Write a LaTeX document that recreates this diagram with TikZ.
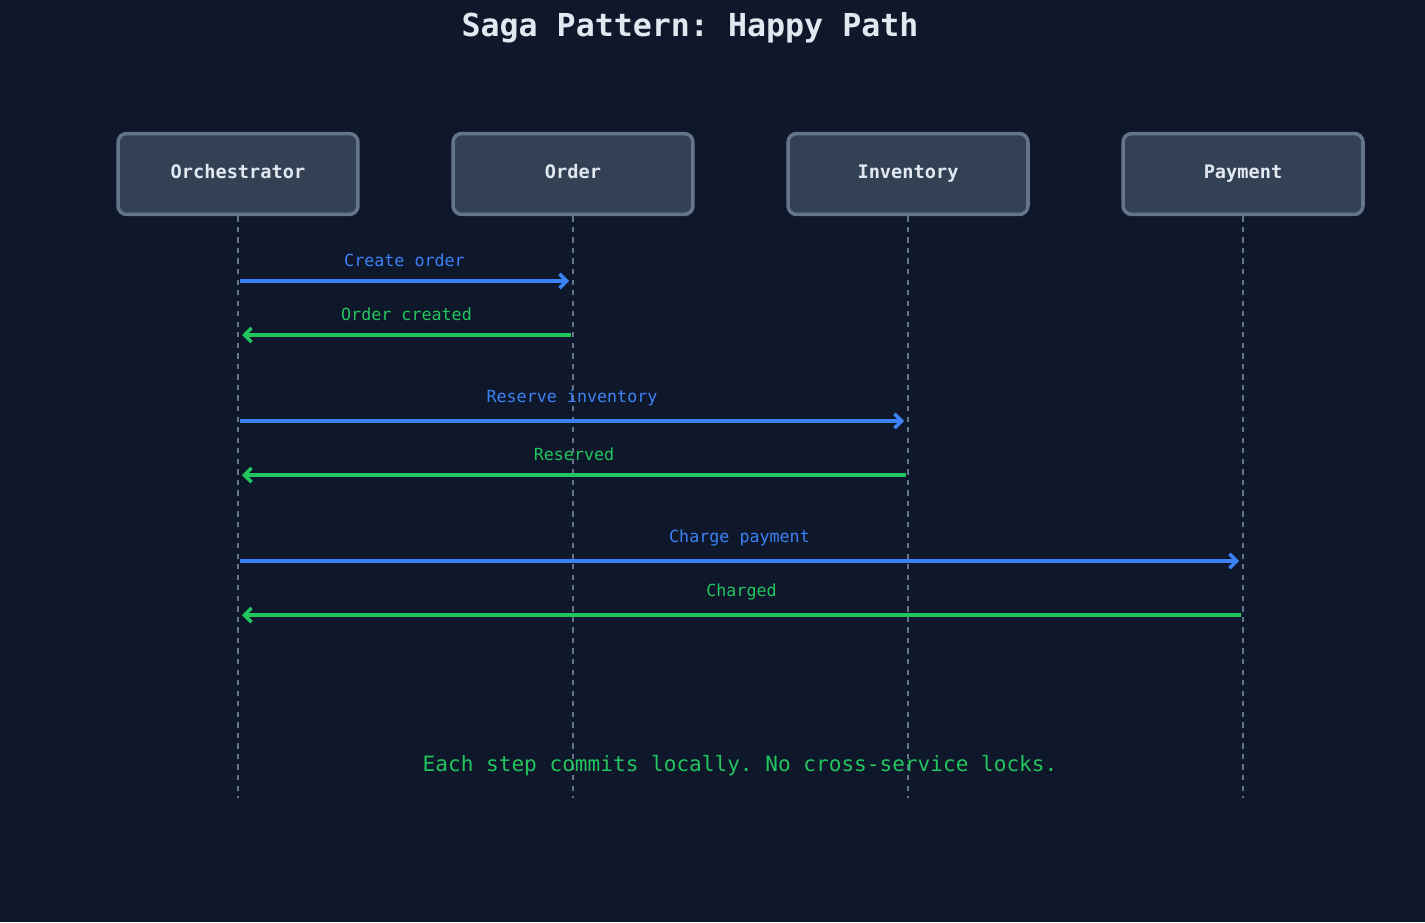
\documentclass[tikz,border=0pt]{standalone}
\usepackage{fontspec}
\setmonofont{DejaVu Sans Mono}
\usetikzlibrary{arrows.meta,positioning}
\definecolor{bgcol}{HTML}{0F172A}
\definecolor{boxfill}{HTML}{334155}
\definecolor{boxline}{HTML}{64748B}
\definecolor{txtcol}{HTML}{E2E8F0}
\definecolor{reqcol}{HTML}{3B82F6}
\definecolor{repcol}{HTML}{22C55E}
\begin{document}
\begin{tikzpicture}[
    x=0.02cm, y=-0.02cm,
    actor/.style={rectangle, draw=boxline, fill=boxfill, line width=2pt, rounded corners=5pt, minimum width=4.8cm, minimum height=1.62cm, text height=1.6ex, text depth=0.3ex, font=\ttfamily\bfseries\fontsize{10.6}{12}\selectfont, text=txtcol},
    life/.style={boxline, dashed, line width=0.8pt},
    req/.style={reqcol, line width=2pt, -{Straight Barb[length=4pt]}},
    rep/.style={repcol, line width=2pt, -{Straight Barb[length=4pt]}},
    msg/.style={font=\ttfamily\fontsize{9.5}{11}\selectfont, above=4pt}
]
\fill[bgcol] (0,0) rectangle (1425,922);

% Title
\node[text=txtcol, font=\ttfamily\bfseries\fontsize{18}{21}\selectfont] (title) at (690,28) {Saga Pattern: Happy Path};

% Participants
\node[actor] (orch) at (238,174) {Orchestrator};
\node[actor] (order) at (573,174) {Order};
\node[actor] (inv) at (908,174) {Inventory};
\node[actor] (pay) at (1243,174) {Payment};

% Lifelines
\foreach \p/\x in {orch/238, order/573, inv/908, pay/1243}{
  \coordinate (\p-end) at (\x,798);
  \draw[life] (\p.south) -- (\p-end);
}

% Messages
\foreach \p/\x/\y in {order/573/281, inv/908/421, pay/1243/561}{
  \coordinate (\p-in) at (\x-4,\y);
  \coordinate (orch-out-\p) at (240,\y);
}
\foreach \p/\x/\y in {order/573/335, inv/908/475, pay/1243/615}{
  \coordinate (\p-out) at (\x-2,\y);
  \coordinate (orch-in-\p) at (242,\y);
}
\draw[req] (orch-out-order) -- node[msg, reqcol] {Create order} (order-in);
\draw[rep] (order-out) -- node[msg, repcol] {Order created} (orch-in-order);
\draw[req] (orch-out-inv) -- node[msg, reqcol] {Reserve inventory} (inv-in);
\draw[rep] (inv-out) -- node[msg, repcol] {Reserved} (orch-in-inv);
\draw[req] (orch-out-pay) -- node[msg, reqcol] {Charge payment} (pay-in);
\draw[rep] (pay-out) -- node[msg, repcol] {Charged} (orch-in-pay);

% Footer
\node[text=repcol, font=\ttfamily\fontsize{12}{14}\selectfont] (note) at (740,766) {Each step commits locally. No cross-service locks.};
\end{tikzpicture}
\end{document}
